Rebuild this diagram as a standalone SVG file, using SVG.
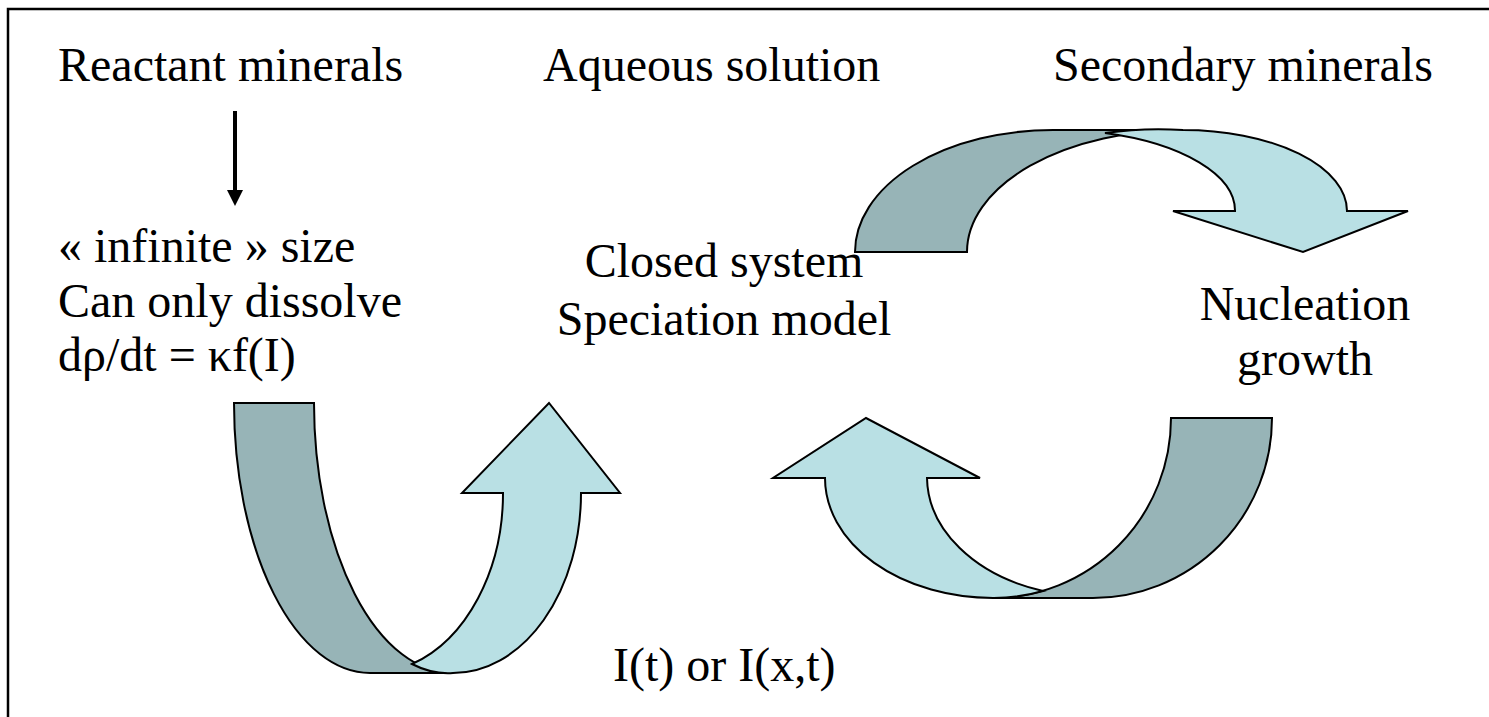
<svg xmlns="http://www.w3.org/2000/svg" width="1489" height="717" viewBox="0 0 1489 717">
  <defs>
    <style>
      text { font-family: 'Liberation Serif', 'Times New Roman', 'DejaVu Serif', serif; font-size: 48px; fill: #000; }
      .m { text-anchor: middle; }
      .dark { fill: #97B4B7; stroke: #000; stroke-width: 2; stroke-linejoin: miter; }
      .light { fill: #B9E0E4; stroke: #000; stroke-width: 2; stroke-linejoin: miter; }
    </style>
    <marker id="ah" markerWidth="4" markerHeight="4" refX="0" refY="2" orient="auto" markerUnits="strokeWidth">
      <path d="M0,0 L4,2 L0,4 Z" fill="#000"/>
    </marker>
  </defs>
  <rect x="0" y="0" width="1489" height="717" fill="#fff"/>
  <rect x="8" y="9" width="1510" height="730" fill="none" stroke="#000" stroke-width="2.5"/>

  <g id="reactant" font-family="Liberation Serif, Times New Roman, serif">
    <text x="58" y="81">Reactant minerals</text>
    <text x="58" y="262">« infinite » size</text>
    <text x="58" y="317">Can only dissolve</text>
    <text x="58" y="371">dρ/dt = κf(I)</text>
  </g>
  <g id="aqueous" font-family="Liberation Serif, Times New Roman, serif">
    <text x="543" y="81">Aqueous solution</text>
    <text class="m" x="724" y="277">Closed system</text>
    <text class="m" x="724" y="335">Speciation model</text>
  </g>
  <g id="secondary" font-family="Liberation Serif, Times New Roman, serif">
    <text x="1053" y="81">Secondary minerals</text>
    <text class="m" x="1305" y="320">Nucleation</text>
    <text class="m" x="1305" y="375">growth</text>
  </g>
  <g id="flux" font-family="Liberation Serif, Times New Roman, serif">
    <text x="613" y="681">I(t) or I(x,t)</text>
  </g>

  <g id="connectors">
    <line x1="235" y1="111" x2="235" y2="190" stroke="#000" stroke-width="4" marker-end="url(#ah)"/>

    <g id="arrow-dissolve">
      <path class="dark" d="M234,403 L314,403 A139,270 0 0 0 453,673 L370,673 A136,270 0 0 1 234,403 Z"/>
      <path class="light" d="M453,673 A128,180 0 0 0 581,493 L620,493 L549,403 L462,493 L503,493 A133,180 0 0 1 412,664 A139,270 0 0 0 453,673 Z"/>
    </g>

    <g id="arrow-precipitate">
      <path class="dark" d="M855,252 A198,122 0 0 1 1053,130 L1183,130 A216,122 0 0 0 967,252 Z"/>
      <path class="light" d="M1183,130 A164,81 0 0 1 1347,211 L1408,211 L1303,252 L1173,211 L1235,211 A182,81 0 0 0 1105,133 A216,122 0 0 1 1183,130 Z"/>
    </g>

    <g id="arrow-return">
      <path class="dark" d="M1171,418 L1272,418 A179,180 0 0 1 1093,598 L993,598 A178,180 0 0 0 1171,418 Z"/>
      <path class="light" d="M993,598 A168,120 0 0 1 825,478 L773,478 L866,418 L980,478 L927,478 A166,120 0 0 0 1043,591 A178,180 0 0 1 993,598 Z"/>
    </g>
  </g>
</svg>
